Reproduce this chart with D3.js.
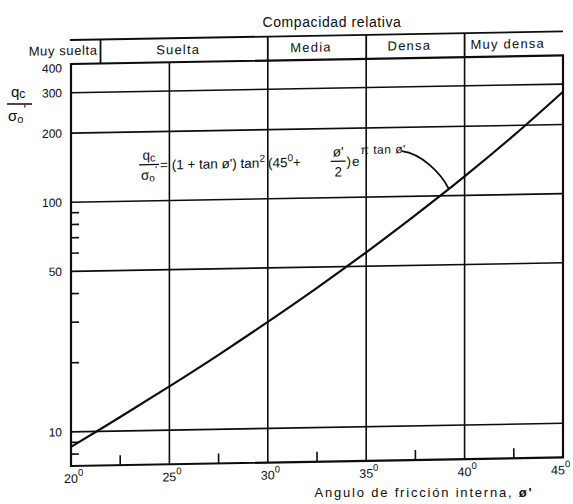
<!DOCTYPE html>
<html>
<head>
<meta charset="utf-8">
<script src="https://cdn.jsdelivr.net/npm/d3@7"></script>
<style>
  body { margin: 0; background: #fff; }
  text { font-family: "Liberation Sans", Arial, sans-serif; fill: #0d0d0d; }
</style>
</head>
<body>
<svg id="chart" width="573" height="504"></svg>
<script>
// values
const angles = [20, 22.5, 25, 27.5, 30, 32.5, 35, 37.5, 40, 42.5, 45];
const ratio = [8.6, 11.5, 15.5, 21.1, 29.1, 40.6, 57.5, 82.8, 121, 181, 278];

const xTicks = [20, 25, 30, 35, 40, 45];
const xMinor = [22.5, 27.5, 32.5, 37.5, 42.5];
const yTicks = [10, 50, 100, 200, 300, 400];
const yMinor = [8, 9, 20, 30, 40, 60, 70, 80, 90];

const classes = ["Muy suelta", "Suelta", "Media", "Densa", "Muy densa"];
const classEdges = [21.5, 30, 35, 40, 45]; // right edge of each class, degrees

const leaderAngle = 39.2;

const svg = d3.select('#chart');
svg.append('rect').attr('width', 573).attr('height', 504).attr('fill', '#fff');

let x = d3.scaleLinear().domain([20, 45]).range([71, 563]);
let y = d3.scaleLog().domain([7.1, 400]).range([466, 64]);
const bandTop = 40;
const ink = '#0d0d0d';

// the scan is slightly sheared, horizontals climb to the right
let g = svg.append('g')
    .attr('transform', `translate(${x(20)},0) skewY(-1) translate(${-x(20)},0)`);

// horizontal grid
g.selectAll('.hgrid').data(yTicks.slice(0, -1)).enter()
    .append('line')
    .attr('x1', x(20)).attr('x2', x(45))
    .attr('y1', d => y(d)).attr('y2', d => y(d))
    .attr('stroke', ink).attr('stroke-width', 1.6);

// vertical grid
g.selectAll('.vgrid').data(xTicks.slice(1, -1)).enter()
    .append('line')
    .attr('x1', d => x(d)).attr('x2', d => x(d))
    .attr('y1', y(400)).attr('y2', y(7.1))
    .attr('stroke', ink).attr('stroke-width', 1.6);

// compactness band
g.selectAll('.divider').data(classEdges.slice(0, -1)).enter()
    .append('line')
    .attr('x1', d => x(d)).attr('x2', d => x(d))
    .attr('y1', bandTop).attr('y2', y(400))
    .attr('stroke', ink).attr('stroke-width', 1.8);
g.append('line')
    .attr('x1', x(20) - 1).attr('x2', x(45))
    .attr('y1', bandTop).attr('y2', bandTop)
    .attr('stroke', ink).attr('stroke-width', 1.8);

classes.forEach((c, i) => {
    let t = g.append('text')
        .attr('y', bandTop + 16)
        .style('font-size', '13px')
        .style('letter-spacing', '1.2px')
        .text(c);
    if (i == 0) {
        t.attr('x', x(classEdges[0]) - 3).attr('y', bandTop + 15)
            .attr('text-anchor', 'end').style('letter-spacing', '0.6px');
    } else {
        t.attr('x', (x(classEdges[i - 1]) + x(classEdges[i])) / 2 - 6).attr('text-anchor', 'middle');
    }
});

// frame
g.append('rect')
    .attr('x', x(20)).attr('y', y(400))
    .attr('width', x(45) - x(20)).attr('height', y(7.1) - y(400))
    .attr('fill', 'none').attr('stroke', ink).attr('stroke-width', 2.2);

// minor ticks
g.selectAll('.ymin').data(yMinor).enter()
    .append('line')
    .attr('x1', x(20)).attr('x2', x(20) + 8)
    .attr('y1', d => y(d)).attr('y2', d => y(d))
    .attr('stroke', ink).attr('stroke-width', 1.6);
g.selectAll('.xmin').data(xMinor).enter()
    .append('line')
    .attr('x1', d => x(d)).attr('x2', d => x(d))
    .attr('y1', y(7.1)).attr('y2', y(7.1) - 10)
    .attr('stroke', ink).attr('stroke-width', 1.6);

// tick labels
g.selectAll('.ylab').data(yTicks).enter()
    .append('text')
    .attr('x', x(20) - 9)
    .attr('y', d => d == 400 ? y(d) + 4 : y(d))
    .attr('dy', '0.36em')
    .attr('text-anchor', 'end')
    .style('font-size', '12px')
    .text(d => d);

xTicks.forEach((d, i) => {
    let last = i == xTicks.length - 1;
    let t = g.append('text')
        .attr('x', x(d) - (last ? 12 : 7)).attr('y', 483)
        .style('font-size', '12.5px');
    t.append('tspan').text(d);
    t.append('tspan').attr('dy', -7).style('font-size', '9.5px').text('0');
});

// curve
let line = d3.line()
    .x((d, i) => x(angles[i]))
    .y(d => y(d))
    .curve(d3.curveCatmullRom);
let curve = g.append('path').datum(ratio)
    .attr('d', line)
    .attr('fill', 'none').attr('stroke', ink).attr('stroke-width', 2.2);

// equation, laid out piece by piece
let eq = g.append('g');
const base = 171, fs = 13.5;
let cx = 139;

function fraction(num, den, gap) {
    let n = eq.append('text').attr('y', base - 10).style('font-size', fs + 'px');
    num(n);
    let dn = eq.append('text').attr('y', base + 10).style('font-size', fs + 'px');
    den(dn);
    let w = Math.max(n.node().getComputedTextLength(), dn.node().getComputedTextLength());
    n.attr('x', cx + 2 + (w - n.node().getComputedTextLength()) / 2);
    dn.attr('x', cx + 2 + (w - dn.node().getComputedTextLength()) / 2);
    eq.append('line')
        .attr('x1', cx).attr('x2', cx + w + 4)
        .attr('y1', base - 5).attr('y2', base - 5)
        .attr('stroke', ink).attr('stroke-width', 1.3);
    cx += w + 4 + gap;
}

function piece(str, dy, size, gap) {
    let t = eq.append('text').attr('x', cx).attr('y', base + dy)
        .style('font-size', size + 'px').text(str);
    cx += t.node().getComputedTextLength() + gap;
    return t;
}

fraction(t => {
    t.append('tspan').text('q');
    t.append('tspan').attr('dy', 2).style('font-size', '11px').text('c');
}, t => {
    t.append('tspan').text('σ');
    t.append('tspan').attr('dy', 2).style('font-size', '10px').text('o');
    t.append('tspan').attr('dy', -8).style('font-size', '11px').text("'");
}, 1);
piece("= (1 + tan ø') tan", 0, fs, 0);
piece('2', -6, 10, 3);
piece('(45', 0, fs, 0);
piece('0', -6, 10, 0);
piece('+', 0, fs, 0);
cx = x(33.2);
fraction(t => t.text("ø'"), t => t.text('2'), 1);
piece(')', 0, fs, 1);
piece('e', 0, fs, 1);
piece("π tan ø'", -12, 12, 0).style('letter-spacing', '0.5px');

// leader from the equation down to the curve
function pointAtX(node, px) {
    let lo = 0, hi = node.getTotalLength();
    for (let i = 0; i < 30; i++) {
        let mid = (lo + hi) / 2;
        if (node.getPointAtLength(mid).x < px) lo = mid; else hi = mid;
    }
    return node.getPointAtLength(lo);
}
let s = { x: cx, y: base - 14 };
let e = pointAtX(curve.node(), x(leaderAngle));
eq.append('path')
    .attr('d', `M${s.x},${s.y} C${s.x + 20},${s.y + 3} ${e.x - 8},${e.y - 16} ${e.x},${e.y}`)
    .attr('fill', 'none').attr('stroke', ink).attr('stroke-width', 1.8);

// titles
svg.append('text')
    .attr('x', 332).attr('y', 27)
    .attr('text-anchor', 'middle')
    .style('font-size', '14px')
    .style('letter-spacing', '0.6px')
    .text('Compacidad relativa');

let xTitle = svg.append('text')
    .attr('x', 424).attr('y', 497)
    .attr('text-anchor', 'middle')
    .style('font-size', '13px')
    .style('letter-spacing', '1.8px');
xTitle.append('tspan').text('Angulo de fricción interna, ');
xTitle.append('tspan').style('font-weight', 'bold').text("ø'");

// y title as a stacked fraction
let yq = svg.append('text').attr('x', 11).attr('y', 97).style('font-size', '15px');
yq.append('tspan').text('q');
yq.append('tspan').attr('dy', 1).style('font-size', '12px').text('c');
svg.append('line')
    .attr('x1', 7).attr('x2', 32).attr('y1', 104).attr('y2', 104)
    .attr('stroke', ink).attr('stroke-width', 1.5);
let ys = svg.append('text').attr('x', 8).attr('y', 121).style('font-size', '15px');
ys.append('tspan').text('σ');
ys.append('tspan').attr('dy', 2).style('font-size', '11px').text('o');
ys.append('tspan').attr('dy', -9).style('font-size', '13px').text("'");
</script>
</body>
</html>
